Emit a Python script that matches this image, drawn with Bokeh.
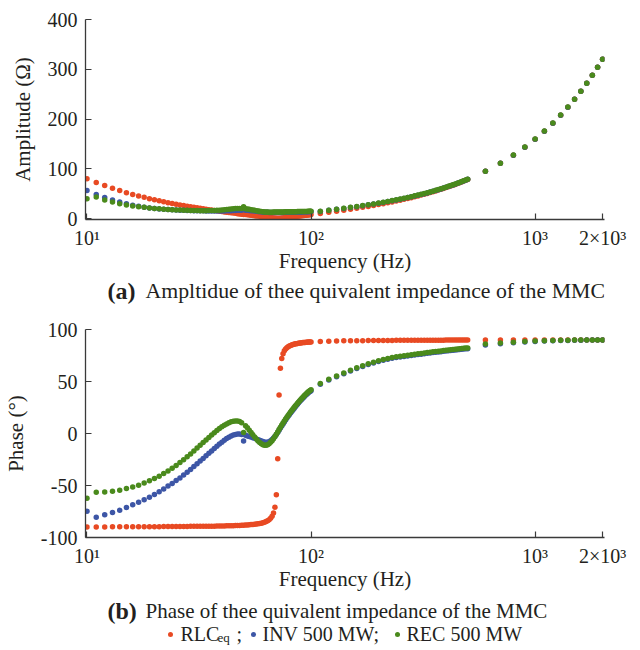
from bokeh.plotting import figure
from bokeh.models import Range1d, FixedTicker, ColumnDataSource
from bokeh.layouts import column
from bokeh.embed import file_html
from bokeh.resources import INLINE
from bokeh.core.properties import value

FONT = "Liberation Serif"
INK = "#231f20"
AXIS = "#3a3a3a"
C_RLC = "#e84a23"
C_INV = "#3d56a6"
C_REC = "#4a8a1c"

# Frequency grid of the sweep (Hz): 1 Hz steps to 100 Hz, 10 Hz steps to 500 Hz, 100 Hz steps to 2 kHz
freq_hz = list(range(10, 101)) + list(range(110, 501, 10)) + list(range(600, 2001, 100))

x_ticks = [10, 100, 1000, 2000]
x_tick_labels = ["10\u00b9", "10\u00b2", "10\u00b3", "2\u00d710\u00b3"]
amp_ticks = [0, 100, 200, 300, 400]
amp_tick_labels = ["0", "100", "200", "300", "400"]
phase_ticks = [-100, -50, 0, 50, 100]
phase_tick_labels = ["-100", "-50", "0", "50", "100"]

# Amplitude of the equivalent impedance (ohm)
amp_rlc = [
    80.0, 72.4, 66.1, 60.7, 56.1, 52.0, 48.5, 45.3, 42.5, 39.9,
    37.6, 35.5, 33.6, 31.8, 30.2, 28.6, 27.2, 25.9, 24.7, 23.5,
    22.4, 21.4, 20.4, 19.5, 18.6, 17.7, 16.9, 16.1, 15.4, 14.7,
    14.0, 13.3, 12.7, 12.1, 11.5, 10.9, 10.4, 9.8, 9.3, 8.8,
    8.3, 7.8, 7.4, 6.9, 6.5, 6.0, 5.6, 5.2, 4.8, 4.4,
    4.0, 3.6, 3.2, 2.9, 2.5, 2.2, 1.8, 1.5, 1.1, 0.8,
    0.5, 0.3, 0.3, 0.6, 0.9, 1.2, 1.5, 1.8, 2.0, 2.3,
    2.6, 2.9, 3.2, 3.5, 3.7, 4.0, 4.3, 4.6, 4.8, 5.1,
    5.4, 5.6, 5.9, 6.1, 6.4, 6.6, 6.9, 7.1, 7.4, 7.6,
    7.9,
    10.2, 12.4, 14.6, 16.6, 18.6, 20.5, 22.4, 24.3, 26.1, 28.0,
    29.8, 31.5, 33.3, 35.1, 36.8, 38.5, 40.2, 41.9, 43.7, 45.4,
    47.0, 48.7, 50.4, 52.1, 53.8, 55.4, 57.1, 58.7, 60.4, 62.1,
    63.7, 65.4, 67.0, 68.6, 70.3, 71.9, 73.6, 75.2, 76.8, 78.5,
    94.8, 111.0, 127.2, 143.3, 159.4, 175.5, 191.6, 207.7, 223.7, 239.8,
    255.8, 271.9, 288.0, 304.0, 320.0,
]
amp_inv = [
    56.5, 48.0, 42.0, 37.0, 33.0, 29.5, 26.8, 24.6, 22.8, 21.3,
    20.1, 19.2, 18.5, 17.9, 17.4, 17.0, 16.7, 16.4, 16.2, 16.0,
    15.8, 15.6, 15.5, 15.4, 15.3, 15.2, 15.1, 15.1, 15.1, 15.1,
    15.2, 15.3, 15.4, 15.6, 15.8, 16.0, 16.2, 16.4, 16.6, 16.7,
    18.5, 16.6, 16.4, 16.1, 15.8, 15.4, 15.0, 14.6, 14.2, 13.8,
    13.4, 13.1, 12.8, 12.6, 12.4, 12.3, 12.2, 12.1, 12.1, 12.1,
    12.1, 12.1, 12.2, 12.2, 12.3, 12.3, 12.4, 12.4, 12.5, 12.5,
    12.6, 12.7, 12.7, 12.8, 12.9, 12.9, 13.0, 13.1, 13.1, 13.2,
    13.3, 13.3, 13.4, 13.5, 13.5, 13.6, 13.7, 13.8, 13.8, 13.9,
    14.0,
    14.3, 16.4, 18.4, 20.2, 22.0, 23.8, 25.6, 27.4, 29.0, 30.8,
    32.4, 34.0, 35.6, 37.2, 38.8, 40.4, 42.0, 43.5, 45.1, 46.7,
    48.3, 49.9, 51.5, 53.1, 54.7, 56.3, 58.0, 59.5, 61.2, 62.7,
    64.3, 65.9, 67.5, 69.1, 70.7, 72.3, 73.9, 75.5, 77.1, 78.8,
    95.0, 111.2, 127.3, 143.4, 159.5, 175.6, 191.7, 207.7, 223.8, 239.8,
    255.9, 271.9, 287.9, 304.0, 320.0,
]
amp_rec = [
    39.5, 43.0, 37.0, 33.0, 29.5, 27.0, 25.2, 23.8, 22.5, 21.3,
    20.3, 19.5, 18.8, 18.2, 17.7, 17.3, 17.0, 16.7, 16.4, 16.2,
    16.0, 15.9, 15.8, 15.8, 15.8, 15.9, 16.0, 16.2, 16.5, 16.8,
    17.2, 17.7, 18.2, 18.7, 19.2, 19.6, 19.9, 20.1, 20.2, 20.1,
    23.5, 19.6, 19.1, 18.5, 17.8, 17.1, 16.4, 15.7, 15.0, 14.4,
    13.9, 13.5, 13.2, 13.0, 12.9, 12.8, 12.8, 12.8, 12.9, 13.0,
    13.0, 13.1, 13.1, 13.2, 13.2, 13.3, 13.3, 13.4, 13.4, 13.5,
    13.5, 13.6, 13.6, 13.7, 13.7, 13.8, 13.8, 13.9, 13.9, 14.0,
    14.0, 14.1, 14.1, 14.2, 14.2, 14.3, 14.3, 14.4, 14.4, 14.5,
    14.5,
    14.7, 16.8, 18.8, 20.6, 22.4, 24.2, 26.0, 27.8, 29.4, 31.2,
    32.8, 34.4, 36.0, 37.6, 39.2, 40.8, 42.4, 43.9, 45.5, 47.1,
    48.7, 50.3, 51.9, 53.5, 55.0, 56.6, 58.3, 59.8, 61.5, 63.0,
    64.6, 66.2, 67.8, 69.4, 71.0, 72.6, 74.2, 75.8, 77.3, 79.0,
    95.1, 111.3, 127.4, 143.5, 159.6, 175.7, 191.8, 207.8, 223.9, 239.9,
    256.0, 272.0, 288.0, 304.1, 320.1,
]

# Phase of the equivalent impedance (degrees)
ph_rlc = [
    -89.8, -89.8, -89.8, -89.7, -89.7, -89.7, -89.7, -89.7, -89.6, -89.6,
    -89.6, -89.6, -89.5, -89.5, -89.5, -89.5, -89.4, -89.4, -89.4, -89.3,
    -89.3, -89.3, -89.2, -89.2, -89.2, -89.1, -89.1, -89.1, -89.0, -89.0,
    -88.9, -88.9, -88.8, -88.7, -88.7, -88.6, -88.5, -88.4, -88.4, -88.3,
    -88.2, -88.0, -87.9, -87.8, -87.6, -87.5, -87.3, -87.1, -86.8, -86.5,
    -86.2, -85.8, -85.3, -84.7, -83.9, -82.9, -81.5, -79.6, -76.5, -70.9,
    -58.8, -24.2, 36.9, 62.8, 72.2, 76.7, 79.5, 81.3, 82.5, 83.4,
    84.1, 84.7, 85.2, 85.6, 85.9, 86.2, 86.4, 86.6, 86.8, 87.0,
    87.1, 87.3, 87.4, 87.5, 87.6, 87.7, 87.8, 87.9, 87.9, 88.0,
    88.1,
    88.5, 88.8, 88.9, 89.1, 89.2, 89.3, 89.3, 89.4, 89.4, 89.5,
    89.5, 89.5, 89.5, 89.6, 89.6, 89.6, 89.6, 89.6, 89.6, 89.7,
    89.7, 89.7, 89.7, 89.7, 89.7, 89.7, 89.7, 89.7, 89.7, 89.8,
    89.8, 89.8, 89.8, 89.8, 89.8, 89.8, 89.8, 89.8, 89.8, 89.8,
    89.8, 89.9, 89.9, 89.9, 89.9, 89.9, 89.9, 89.9, 89.9, 89.9,
    89.9, 89.9, 89.9, 90.0, 90.0,
]
ph_inv = [
    -74.7, -80.5, -78.2, -76.0, -73.8, -71.2, -68.6, -66.0, -63.8, -61.3,
    -58.7, -56.0, -53.4, -50.6, -48.0, -45.3, -42.7, -39.9, -37.3, -34.5,
    -31.7, -29.1, -26.5, -24.0, -21.5, -19.1, -16.8, -14.5, -12.3, -10.2,
    -8.3, -6.5, -4.9, -3.5, -2.4, -1.5, -0.9, -0.6, -0.6, -0.9,
    -7.1, -1.8, -2.3, -2.9, -3.4, -4.0, -4.6, -5.3, -6.0, -6.6,
    -7.2, -7.8, -8.3, -8.5, -8.4, -7.9, -7.0, -5.8, -4.4, -2.8,
    -0.9, 1.0, 3.1, 5.2, 7.2, 9.2, 11.1, 13.0, 14.8, 16.5,
    18.1, 19.7, 21.2, 22.7, 24.1, 25.5, 26.9, 28.2, 29.5, 30.7,
    31.9, 33.0, 34.1, 35.2, 36.2, 37.2, 38.1, 39.0, 39.8, 40.5,
    41.1,
    47.3, 51.5, 54.5, 57.5, 60.1, 62.5, 64.5, 66.3, 67.9, 69.3,
    70.5, 71.5, 72.3, 73.0, 73.6, 74.1, 74.6, 75.1, 75.5, 75.9,
    76.3, 76.7, 77.1, 77.5, 77.8, 78.1, 78.4, 78.7, 79.0, 79.3,
    79.6, 79.8, 80.1, 80.3, 80.5, 80.8, 81.0, 81.2, 81.4, 81.6,
    85.2, 86.4, 87.3, 88.0, 88.5, 88.9, 89.2, 89.4, 89.5, 89.6,
    89.7, 89.8, 89.8, 89.9, 89.9,
]
ph_rec = [
    -62.2, -56.4, -56.2, -55.5, -54.5, -53.0, -51.4, -49.7, -47.6, -45.5,
    -43.3, -41.0, -38.5, -36.0, -33.4, -30.7, -28.0, -25.2, -22.4, -19.6,
    -16.8, -14.0, -11.3, -8.7, -6.2, -3.8, -1.5, 0.7, 2.8, 4.7,
    6.4, 7.9, 9.2, 10.3, 11.2, 11.8, 12.1, 12.0, 11.5, 10.3,
    1.0, 7.5, 5.5, 3.2, 1.0, -1.2, -3.3, -5.3, -7.1, -8.6,
    -9.8, -10.7, -11.2, -11.2, -10.7, -9.8, -8.5, -6.9, -5.0, -3.0,
    -0.8, 1.5, 3.8, 6.0, 8.1, 10.1, 12.0, 13.9, 15.7, 17.4,
    19.0, 20.6, 22.1, 23.6, 25.0, 26.4, 27.7, 29.0, 30.3, 31.5,
    32.7, 33.8, 34.9, 36.0, 37.0, 38.0, 38.9, 39.8, 40.6, 41.3,
    42.0,
    48.0, 52.2, 55.2, 58.2, 60.8, 63.2, 65.2, 67.0, 68.6, 70.0,
    71.2, 72.2, 73.0, 73.7, 74.3, 74.8, 75.3, 75.8, 76.2, 76.6,
    77.0, 77.4, 77.8, 78.2, 78.5, 78.8, 79.1, 79.4, 79.7, 80.0,
    80.3, 80.5, 80.8, 81.0, 81.2, 81.5, 81.7, 81.9, 82.1, 82.3,
    86.0, 87.0, 87.8, 88.4, 88.9, 89.2, 89.4, 89.6, 89.7, 89.8,
    89.9, 90.0, 90.0, 90.0, 90.0,
]

src = ColumnDataSource(dict(
    f=freq_hz,
    amp_rlc=amp_rlc, amp_inv=amp_inv, amp_rec=amp_rec,
    ph_rlc=ph_rlc, ph_inv=ph_inv, ph_rec=ph_rec,
))

DOT = 5.5
LEFT, RIGHT = 85, 36


def sweep_panel(height, y_start, y_end, y_ticks, y_labels, y_label, top, bottom):
    p = figure(width=640, height=height, x_axis_type="log",
               x_range=Range1d(9.85, 2040), y_range=Range1d(y_start, y_end),
               toolbar_location=None, output_backend="svg",
               min_border_left=LEFT, min_border_right=RIGHT,
               min_border_top=top, min_border_bottom=bottom)
    p.outline_line_color = None
    p.grid.visible = False
    p.background_fill_color = "white"
    p.border_fill_color = "white"

    xa, ya = p.xaxis[0], p.yaxis[0]
    xa.ticker = FixedTicker(ticks=x_ticks)
    xa.major_label_overrides = dict(zip(x_ticks, x_tick_labels))
    ya.ticker = FixedTicker(ticks=y_ticks)
    ya.major_label_overrides = dict(zip(y_ticks, y_labels))
    xa.axis_label = "Frequency (Hz)"
    ya.axis_label = y_label
    for ax in (xa, ya):
        ax.axis_line_color = AXIS
        ax.axis_line_width = 1.3
        ax.major_tick_line_color = AXIS
        ax.major_tick_line_width = 1.2
        ax.major_tick_in = 6
        ax.major_tick_out = 0
        ax.minor_tick_line_color = None
        ax.major_label_text_font = FONT
        ax.major_label_text_font_size = "20px"
        ax.major_label_text_color = INK
        ax.axis_label_text_font = FONT
        ax.axis_label_text_font_size = "21px"
        ax.axis_label_text_font_style = "normal"
        ax.axis_label_text_color = INK
    xa.major_label_standoff = 7
    xa.axis_label_standoff = -3
    ya.major_label_standoff = 8
    ya.axis_label_standoff = 10
    return p


def text_panel(height):
    # data units equal page pixels inside the shared frame columns
    c = figure(width=640, height=height, x_range=Range1d(LEFT, 640 - RIGHT),
               y_range=Range1d(height, 0),
               toolbar_location=None, output_backend="svg",
               x_axis_location=None, y_axis_location=None,
               min_border_left=LEFT, min_border_right=RIGHT,
               min_border_top=0, min_border_bottom=0)
    c.outline_line_color = None
    c.grid.visible = False
    return c


def put_text(c, x, y, s, size="21px", style="normal", align="left"):
    c.text(x=[x], y=[y], text=[s], text_font=value(FONT), text_font_size=size,
           text_font_style=style, text_align=align, text_baseline="middle", text_color=INK)


# (a) amplitude
fig_amp = sweep_panel(275, -2, 400, amp_ticks, amp_tick_labels, "Amplitude (\u03a9)", 19, 56)
fig_amp.scatter("f", "amp_rlc", source=src, size=DOT, fill_color=C_RLC, line_color=None)
fig_amp.scatter("f", "amp_inv", source=src, size=DOT, fill_color=C_INV, line_color=None)
fig_amp.scatter("f", "amp_rec", source=src, size=DOT, fill_color=C_REC, line_color=None)

cap_a = text_panel(30)
put_text(cap_a, 107, 15, "(a)", size="24px", style="bold")
put_text(cap_a, 145, 15, "Ampltidue of thee quivalent impedance of the MMC", size="21.8px")

# (b) phase
fig_ph = sweep_panel(288, -100, 100, phase_ticks, phase_tick_labels, "Phase (\u00b0)", 24, 56)
fig_ph.scatter("f", "ph_rlc", source=src, size=DOT, fill_color=C_RLC, line_color=None)
fig_ph.scatter("f", "ph_inv", source=src, size=DOT, fill_color=C_INV, line_color=None)
fig_ph.scatter("f", "ph_rec", source=src, size=DOT, fill_color=C_REC, line_color=None)

cap_b = text_panel(57)
put_text(cap_b, 107, 17, "(b)", size="24px", style="bold")
put_text(cap_b, 145, 17, "Phase of thee quivalent impedance of the MMC")

# legend row
cap_b.scatter(x=[170, 253, 397], y=[41, 41, 41], size=5, fill_color=[C_RLC, C_INV, C_REC], line_color=None)
put_text(cap_b, 180, 40, "RLC", size="20px")
put_text(cap_b, 217, 44, "eq", size="13px")
put_text(cap_b, 236, 40, ";", size="20px")
put_text(cap_b, 262, 40, "INV 500 MW;", size="20px")
put_text(cap_b, 406, 40, "REC 500 MW", size="20px")

layout = column(fig_amp, cap_a, fig_ph, cap_b, spacing=0)
open("out.html", "w").write(file_html(layout, INLINE))
